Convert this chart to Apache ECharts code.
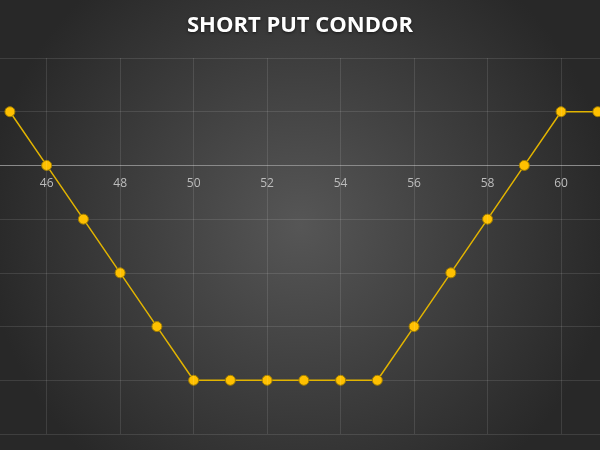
<!DOCTYPE html>
<html>
<head>
<meta charset="utf-8">
<script src="https://cdn.jsdelivr.net/npm/echarts@6/dist/echarts.min.js"></script>
<style>
html,body{margin:0;padding:0;background:#3a3a3a;}
#chart{width:600px;height:450px;}
</style>
</head>
<body>
<div id="chart"></div>
<script>
var titleText = 'SHORT PUT CONDOR';
var strikes = [45,46,47,48,49,50,51,52,53,54,55,56,57,58,59,60,61];
var payoff  = [1,0,-1,-2,-3,-4,-4,-4,-4,-4,-4,-3,-2,-1,0,1,1];
var xTicks = [46,48,50,52,54,56,58,60];

var chart = echarts.init(document.getElementById('chart'), null, {renderer:'canvas'});
var pts = strikes.map(function(s,i){return [s, payoff[i]];});
var gridTop = 58, gridBottom = 16, yMin = -5, yMax = 2;
var plotH = 450 - gridTop - gridBottom;
var zeroOffset = plotH * (0 - yMin) / (yMax - yMin);
chart.setOption({
  backgroundColor: {
    type:'radial', x:0.5, y:0.5, r:0.7,
    colorStops:[{offset:0,color:'#565656'},{offset:1,color:'#282828'}]
  },
  title:{
    text:titleText, left:'center', top:10,
    textStyle:{color:'#ffffff', fontFamily:'Open Sans', fontWeight:'bold', fontSize:22,
      textShadowColor:'rgba(0,0,0,0.6)', textShadowBlur:3, textShadowOffsetY:1}
  },
  grid:{left:0, right:0, top:gridTop, bottom:gridBottom, containLabel:false, outerBoundsMode:'none'},
  xAxis:{
    type:'value', min:44.73, max:61.06, position:'bottom', offset:-zeroOffset,
    axisLine:{onZero:false, lineStyle:{color:'#8a8a8a', width:1}},
    axisTick:{show:false, customValues:xTicks},
    axisLabel:{color:'#bdbdbd', fontFamily:'Open Sans', fontSize:12, margin:12, customValues:xTicks},
    splitLine:{show:false}
  },
  yAxis:{
    type:'value', min:yMin, max:yMax, interval:1,
    axisLine:{show:false}, axisTick:{show:false}, axisLabel:{show:false},
    splitLine:{show:true, lineStyle:{color:'rgba(255,255,255,0.11)', width:1}}
  },
  series:[{
    type:'line', data:pts, symbol:'circle', symbolSize:10,
    lineStyle:{color:'#e2b400', width:1.5},
    itemStyle:{color:'#ffc000', borderColor:'#a07d00', borderWidth:1},
    clip:false, animation:false, z:3,
    markLine:{
      silent:true, symbol:'none', label:{show:false},
      lineStyle:{color:'rgba(255,255,255,0.11)', type:'solid', width:1},
      data: xTicks.map(function(v){return {xAxis:v};}),
      animation:false
    }
  }]
});
</script>
</body>
</html>
